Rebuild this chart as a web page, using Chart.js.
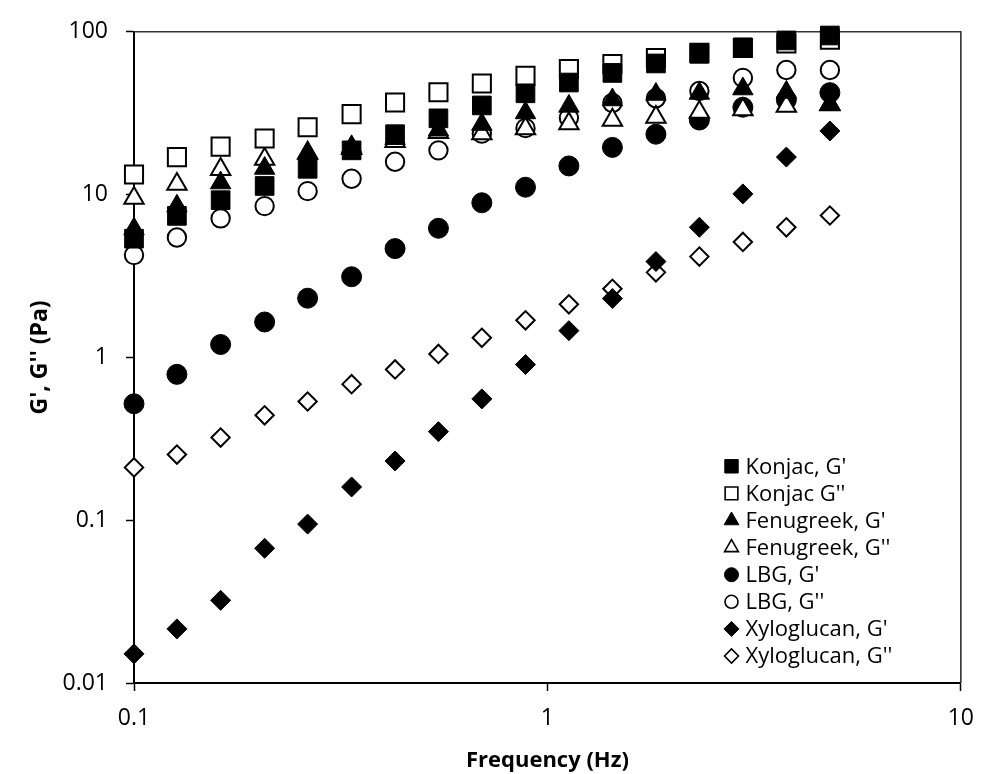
<!DOCTYPE html>
<html>
<head>
<meta charset="utf-8">
<script src="https://cdn.jsdelivr.net/npm/chart.js@4.4.0/dist/chart.umd.min.js"></script>
<style>
  html, body { margin: 0; padding: 0; background: #ffffff; }
  #wrap { width: 988px; height: 774px; position: relative; }
</style>
</head>
<body>
<div id="wrap"><canvas id="c" width="988" height="774"></canvas></div>
<script>
// ---- data ----
const frequencyHz = [0.1, 0.127, 0.162, 0.207, 0.263, 0.336, 0.428, 0.545, 0.694, 0.885, 1.127, 1.436, 1.83, 2.331, 2.97, 3.784, 4.822];
const konjacG1 = [5.36, 7.40, 9.24, 11.3, 14.4, 18.7, 23.5, 29.4, 35.3, 41.9, 48.8, 55.9, 63.9, 73.2, 80.3, 88.5, 94.9];
const konjacG2 = [13.3, 17.0, 19.7, 22.1, 25.9, 31.2, 36.8, 42.5, 48.1, 53.6, 59.0, 63.3, 69.1, 74.2, 79.6, 84.7, 89.5];
const fenugreekG1 = [6.15, 8.50, 11.8, 14.5, 18.0, 19.7, 22.1, 24.9, 27.0, 31.8, 34.9, 38.2, 41.3, 41.9, 44.6, 42.5, 36.0];
const fenugreekG2 = [9.50, 11.6, 14.3, 16.5, 18.0, 19.2, 21.2, 24.1, 23.7, 25.4, 27.3, 28.7, 29.9, 32.1, 33.3, 34.9, 35.7];
const lbgG1 = [0.519, 0.787, 1.20, 1.65, 2.31, 3.13, 4.66, 6.21, 8.91, 11.1, 15.0, 19.5, 23.5, 28.7, 34.4, 38.2, 42.3];
const lbgG2 = [4.25, 5.45, 7.14, 8.50, 10.5, 12.5, 15.9, 18.7, 23.7, 25.6, 29.6, 36.5, 39.1, 43.3, 52.1, 58.2, 58.2];
const xyloglucanG1 = [0.0151, 0.0215, 0.0322, 0.0672, 0.0946, 0.160, 0.231, 0.350, 0.556, 0.904, 1.46, 2.30, 3.88, 6.30, 10.1, 17.0, 24.6];
const xyloglucanG2 = [0.211, 0.253, 0.322, 0.441, 0.536, 0.685, 0.843, 1.05, 1.32, 1.69, 2.12, 2.64, 3.33, 4.16, 5.12, 6.30, 7.44];
const seriesNames = ["Konjac, G'", "Konjac G''", "Fenugreek, G'", "Fenugreek, G''", "LBG, G'", "LBG, G''", "Xyloglucan, G'", "Xyloglucan, G''"];
const seriesValues = [konjacG1, konjacG2, fenugreekG1, fenugreekG2, lbgG1, lbgG2, xyloglucanG1, xyloglucanG2];
const xTickValues = [0.1, 1, 10];
const yTickValues = [0.01, 0.1, 1, 10, 100];
const xTitle = 'Frequency (Hz)';
const yTitle = "G', G'' (Pa)";

// ---- marker styles ----
const markerStyles = [
  { shape: 'rect',     filled: true,  r: 13.2, lr: 9.5 },
  { shape: 'rect',     filled: false, r: 12.8, lr: 9.0 },
  { shape: 'triangle', filled: true,  r: 11.8, lr: 8.5 },
  { shape: 'triangle', filled: false, r: 11.2, lr: 8.0 },
  { shape: 'circle',   filled: true,  r: 10.0, lr: 7.0 },
  { shape: 'circle',   filled: false, r: 9.2,  lr: 6.5 },
  { shape: 'rectRot',  filled: true,  r: 10.0, lr: 7.5 },
  { shape: 'rectRot',  filled: false, r: 9.2,  lr: 7.0 }
];

const datasets = seriesNames.map((name, k) => {
  const st = markerStyles[k];
  return {
    label: name,
    data: frequencyHz.map((f, i) => ({ x: f, y: seriesValues[k][i] })),
    pointStyle: st.shape,
    pointRadius: st.r,
    pointHoverRadius: st.r,
    backgroundColor: st.filled ? '#000000' : '#ffffff',
    borderColor: '#000000',
    borderWidth: st.filled ? 1 : 2,
    showLine: false,
    clip: false,
    legendRadius: st.lr
  };
});

const framePlugin = {
  id: 'frame',
  beforeDatasetsDraw(chart) {
    const { ctx, chartArea: a } = chart;
    ctx.save();
    ctx.strokeStyle = '#333333';
    ctx.lineWidth = 1.6;
    ctx.beginPath();
    ctx.moveTo(a.left, a.top);
    ctx.lineTo(a.right, a.top);
    ctx.lineTo(a.right, a.bottom);
    ctx.stroke();
    ctx.restore();
  }
};

const legendPlugin = {
  id: 'insideLegend',
  afterDraw(chart) {
    const { ctx, chartArea: a } = chart;
    const mx = a.left + 597.5;
    const y0 = a.top + 434.5;
    const step = 27.1;
    ctx.save();
    chart.data.datasets.forEach((ds, i) => {
      const y = y0 + i * step;
      ctx.fillStyle = ds.backgroundColor;
      ctx.strokeStyle = ds.borderColor;
      ctx.lineWidth = ds.borderWidth === 1 ? 1 : 1.6;
      Chart.helpers.drawPoint(ctx, { pointStyle: ds.pointStyle, radius: ds.legendRadius, rotation: 0, borderWidth: ctx.lineWidth }, mx, y);
      ctx.fillStyle = '#000000';
      ctx.font = '22px "Open Sans"';
      ctx.textAlign = 'left';
      ctx.textBaseline = 'middle';
      ctx.fillText(ds.label, mx + 14, y + 1);
    });
    ctx.restore();
  }
};

const tickFont = { family: 'Open Sans', size: 23 };

new Chart(document.getElementById('c'), {
  type: 'scatter',
  data: { datasets },
  options: {
    responsive: false,
    animation: false,
    devicePixelRatio: 1,
    layout: { padding: { top: 19, right: 24, left: 0, bottom: 0 } },
    plugins: { legend: { display: false }, tooltip: { enabled: false } },
    scales: {
      x: {
        type: 'logarithmic',
        position: 'bottom',
        min: 0.1,
        max: 10,
        afterBuildTicks: s => { s.ticks = xTickValues.map(v => ({ value: v })); },
        afterFit: s => { s.height = 91; },
        grid: { drawOnChartArea: false, drawTicks: true, tickLength: 8, tickWidth: 1.5, tickColor: '#000000', color: '#000000' },
        border: { display: true, color: '#000000', width: 2 },
        ticks: { font: tickFont, color: '#000000', padding: 14, maxRotation: 0, autoSkip: false, callback: v => String(v) },
        title: { display: true, text: xTitle, font: { family: 'Open Sans', size: 22, weight: 'bold' }, color: '#000000', padding: { top: 0, bottom: 0 } }
      },
      y: {
        type: 'logarithmic',
        position: 'left',
        min: 0.01,
        max: 100,
        afterBuildTicks: s => { s.ticks = yTickValues.map(v => ({ value: v })); },
        afterFit: s => { s.width = 134; },
        grid: { drawOnChartArea: false, drawTicks: true, tickLength: 8, tickWidth: 1.5, tickColor: '#000000', color: '#000000' },
        border: { display: true, color: '#000000', width: 2 },
        ticks: { font: tickFont, color: '#000000', padding: 18, autoSkip: false, callback: v => String(v) },
        title: { display: true, text: yTitle, font: { family: 'Open Sans', size: 23, weight: 'bold' }, color: '#000000', padding: { top: 27, bottom: 0 } }
      }
    }
  },
  plugins: [framePlugin, legendPlugin]
});
</script>
</body>
</html>
